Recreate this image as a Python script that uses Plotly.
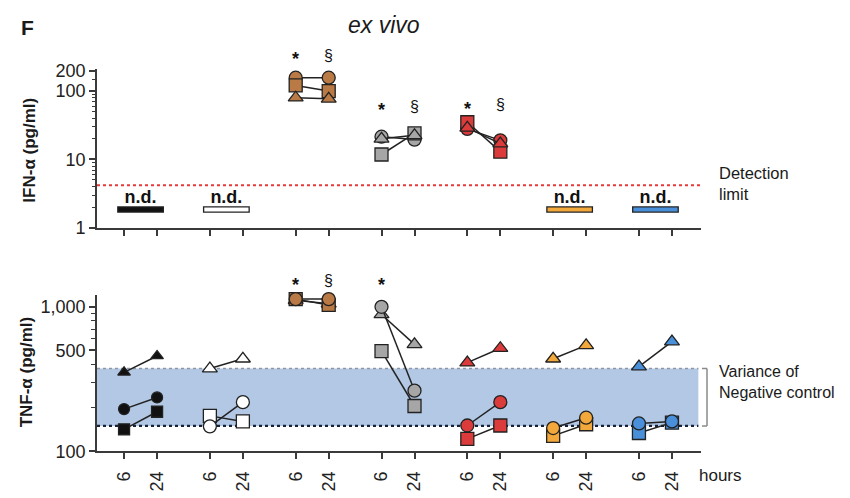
import plotly.graph_objects as go
import math

# ---------------- data ----------------
groups = ["g1", "g2", "g3", "g4", "g5", "g6", "g7"]
hours = ["6", "24"]
group_fill = ["#111111", "#ffffff", "#b97a45", "#a6a6a6", "#dc3b3b", "#f2a83b", "#4a8fd9"]

# IFN-alpha (pg/ml): [6h, 24h] per symbol; None = not detected
ifn_circle = [None, None, [157, 157], [21.5, 19.5], [28, 19], None, None]
ifn_square = [None, None, [121, 100], [11.8, 24], [35, 13], None, None]
ifn_triangle = [None, None, [80, 77], [20, 22.5], [29, 17], None, None]
ifn_nd_groups = [0, 1, 5, 6]
ifn_nd_level = 1.85
ifn_detection_limit = 4.2
ifn_star = [None, None, 332, 59.5, 63, None, None]
ifn_sect = [None, None, 332, 59.5, 63, None, None]

# TNF-alpha (pg/ml)
tnf_circle = [[196, 236], [149, 219], [1130, 1130], [1000, 263], [151, 219], [145, 171], [156, 161]]
tnf_square = [[142, 188], [176, 161], [1130, 1030], [494, 206], [122, 151], [128, 154], [134, 158]]
tnf_triangle = [[352, 457], [374, 437], [1110, 1050], [885, 550], [411, 517], [437, 541], [386, 575]]
tnf_star = [None, None, 1514, 1514, None, None, None]
tnf_sect = [None, None, 1514, None, None, None, None]
neg_ctrl_band = [150, 375]

ifn_ticks = [1, 10, 100, 200]
ifn_minor = [2, 3, 4, 5, 6, 7, 8, 9, 20, 30, 40, 50, 60, 70, 80, 90, 150]
tnf_ticks = [100, 500, 1000]
tnf_ticktext = ["100", "500", "1,000"]
tnf_minor = [200, 300, 400, 600, 700, 800, 900]

GAP = 2.6
xpos = [[GAP * i, GAP * i + 1] for i in range(len(groups))]
XR = [-0.82, 17.48]
YR1 = [0, 2.32]
YR2 = [2, 3.08]

FONT = "Liberation Sans, Arial, sans-serif"
fig = go.Figure()

def add_pair(vals, sym, ax, size):
    for i, v in enumerate(vals):
        if v is None:
            continue
        fig.add_trace(go.Scatter(
            x=xpos[i], y=v, mode="lines+markers", xaxis=ax[0], yaxis=ax[1],
            line=dict(color="#222222", width=1.5), cliponaxis=False,
            marker=dict(symbol=sym, size=size if i != 0 else size - 2,
                        color=group_fill[i], line=dict(color="#222222", width=1.3)),
            showlegend=False, hoverinfo="skip"))

# ---------- top panel ----------
fig.add_trace(go.Scatter(x=[XR[0], 17.45], y=[ifn_detection_limit] * 2, mode="lines",
                         xaxis="x", yaxis="y", line=dict(color="#e8383a", width=2, dash="dot"),
                         showlegend=False, hoverinfo="skip"))
for i in ifn_nd_groups:
    xs = [xpos[i][0] - 0.21, xpos[i][1] + 0.21]
    fig.add_trace(go.Scatter(x=xs, y=[ifn_nd_level] * 2, mode="lines", xaxis="x", yaxis="y",
                             line=dict(color="#222222", width=6.5), showlegend=False, hoverinfo="skip"))
    fig.add_trace(go.Scatter(x=[xs[0] + 0.04, xs[1] - 0.04], y=[ifn_nd_level] * 2, mode="lines",
                             xaxis="x", yaxis="y",
                             line=dict(color=group_fill[i], width=4), showlegend=False, hoverinfo="skip"))
    fig.add_trace(go.Scatter(x=[(xpos[i][0] + xpos[i][1]) / 2], y=[ifn_nd_level * 1.45], mode="text",
                             text=["<b>n.d.</b>"], textfont=dict(size=18, color="#111", family=FONT),
                             xaxis="x", yaxis="y", showlegend=False, hoverinfo="skip", cliponaxis=False))

add_pair(ifn_circle, "circle", ("x", "y"), 13)
add_pair(ifn_square, "square", ("x", "y"), 13)
add_pair(ifn_triangle, "triangle-up", ("x", "y"), 13)

# ---------- bottom panel ----------
fig.add_trace(go.Scatter(x=[XR[0], 17.4, 17.4, XR[0]],
                         y=[neg_ctrl_band[0], neg_ctrl_band[0], neg_ctrl_band[1], neg_ctrl_band[1]],
                         fill="toself", fillcolor="#b2c8e4", mode="none", xaxis="x2", yaxis="y2",
                         showlegend=False, hoverinfo="skip"))
fig.add_trace(go.Scatter(x=[XR[0], 17.4], y=[neg_ctrl_band[1]] * 2, mode="lines", xaxis="x2", yaxis="y2",
                         line=dict(color="#8e97a3", width=1.5, dash="dot"), showlegend=False, hoverinfo="skip"))
fig.add_trace(go.Scatter(x=[XR[0], 17.4], y=[neg_ctrl_band[0]] * 2, mode="lines", xaxis="x2", yaxis="y2",
                         line=dict(color="#16213a", width=2.4, dash="dot"), showlegend=False, hoverinfo="skip"))

add_pair(tnf_triangle, "triangle-up", ("x2", "y2"), 13)
add_pair(tnf_square, "square", ("x2", "y2"), 13)
add_pair(tnf_circle, "circle", ("x2", "y2"), 13)

# significance marks: placed in axis-domain units computed from the log value
def mark(text, xv, yv, axis, yr, size, shift):
    frac = (math.log10(yv) - yr[0]) / (yr[1] - yr[0])
    fig.add_annotation(text=text, x=xv, y=frac, xref=axis[0], yref=axis[1] + " domain",
                       xanchor="center", yanchor="middle",
                       showarrow=False, yshift=shift, font=dict(size=size, color="#111", family=FONT))

for i in range(len(groups)):
    if ifn_star[i] is not None:
        mark("<b>*</b>", xpos[i][0], ifn_star[i], ("x", "y"), YR1, 18, -4)
    if ifn_sect[i] is not None:
        mark("§", xpos[i][1], ifn_sect[i], ("x", "y"), YR1, 16, 0)
    if tnf_star[i] is not None:
        mark("<b>*</b>", xpos[i][0], tnf_star[i], ("x2", "y2"), YR2, 18, -4)
    if tnf_sect[i] is not None:
        mark("§", xpos[i][1], tnf_sect[i], ("x2", "y2"), YR2, 16, 0)

# ---------- axes ----------
DOMX = [97 / 850, 701 / 850]
axis_common = dict(showgrid=False, zeroline=False, showline=True, linecolor="#3a3a3a", linewidth=1.8,
                   ticks="outside", tickcolor="#3a3a3a", tickwidth=1.5,
                   tickfont=dict(size=18, color="#222", family=FONT))
tick_x = [v for p in xpos for v in p]
tick_t = [h for _ in groups for h in hours]

fig.update_layout(
    width=850, height=498, margin=dict(l=0, r=0, t=0, b=0),
    plot_bgcolor="white", paper_bgcolor="white",
    xaxis=dict(domain=DOMX, range=XR, anchor="y", tickvals=tick_x, ticktext=[""] * len(tick_x),
               ticklen=6, **axis_common),
    yaxis=dict(domain=[1 - 228 / 498, 1 - 63.5 / 498], type="log", range=YR1, anchor="x",
               tickvals=ifn_ticks, ticktext=[str(t) for t in ifn_ticks], ticklen=6,
               minor=dict(ticks="outside", ticklen=3, tickcolor="#3a3a3a", tickwidth=1,
                          tickvals=ifn_minor),
               **axis_common),
    xaxis2=dict(domain=DOMX, range=XR, anchor="y2", tickvals=tick_x, ticktext=tick_t, tickangle=-90,
                ticklen=6, ticklabelstandoff=5, **axis_common),
    yaxis2=dict(domain=[1 - 460 / 498, 1 - 298 / 498], type="log", range=YR2, anchor="x2",
                tickvals=tnf_ticks, ticktext=tnf_ticktext, ticklen=6,
                minor=dict(ticks="outside", ticklen=4, tickcolor="#3a3a3a", tickwidth=1.2,
                           tickvals=tnf_minor),
                **axis_common),
)

bx0, bx1 = 702 / 850, 707 / 850
for (xa, xb, ya, yb) in [(bx0, bx1, neg_ctrl_band[1], neg_ctrl_band[1]),
                         (bx1, bx1, neg_ctrl_band[0], neg_ctrl_band[1]),
                         (bx0, bx1, neg_ctrl_band[0], neg_ctrl_band[0])]:
    fig.add_shape(type="line", xref="paper", yref="y2", x0=xa, x1=xb, y0=ya, y1=yb,
                  line=dict(color="#8a8a8a", width=1.5))

def ann(text, x, y, size, xanchor="left", angle=0, **kw):
    fig.add_annotation(text=text, x=x / 850, y=1 - y / 498, xref="paper", yref="paper",
                       showarrow=False, xanchor=xanchor, yanchor="middle", textangle=angle,
                       font=dict(size=size, color="#1a1a1a", family=FONT), **kw)

ann("<b>F</b>", 19, 20, 21)
ann("<i>ex vivo</i>", 384, 18, 23, xanchor="center")
ann("<b>IFN-α (pg/ml)</b>", 30, 148, 17, xanchor="center", angle=-90)
ann("<b>TNF-α (pg/ml)</b>", 26, 378, 17, xanchor="center", angle=-90)
ann("Detection<br>limit", 717, 182, 16.5, align="left")
ann("Variance of<br>Negative control", 717, 388, 16, align="left")
ann("hours", 697, 485, 17)

fig.write_html("out.html")
